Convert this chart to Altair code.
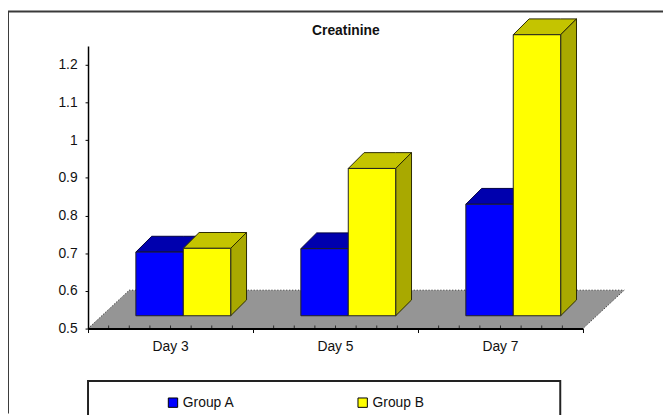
import altair as alt
import pandas as pd

days = ["Day 3", "Day 5", "Day 7"]
group_a = [0.703, 0.712, 0.83]
group_b = [0.713, 0.925, 1.28]
y_ticks = [0.5, 0.6, 0.7, 0.8, 0.9, 1.0, 1.1, 1.2]
series = ["Group A", "Group B"]
front_colors = ["#0000ff", "#ffff00"]
top_colors = ["#0000ae", "#c4c400"]
side_colors = ["#0000a0", "#a9a900"]

FONT = "Liberation Sans"
W, H = 501, 286
BASE = 0.534            # bar foot on the chart floor
BAR_W, BAR_OFF = 0.2874, 0.29
DX, DY = 0.096, 0.042   # bar depth
FDX, FDY = 0.25, 0.102  # floor depth

xs = alt.Scale(domain=[0, 3], nice=False, zero=False)
ys = alt.Scale(domain=[0.5, 1.25], nice=False, zero=False)
x_axis = alt.Axis(values=[0, 1, 2, 3], labels=False, tickSize=4, tickColor="#000000",
                  domainColor="#000000", domainWidth=2, grid=False, zindex=2, title=None)
y_axis = alt.Axis(values=y_ticks, format="~g", tickSize=3, tickColor="#000000",
                  domainColor="#000000", domainWidth=1.5, grid=False, zindex=2, title=None,
                  labelFont=FONT, labelFontSize=14, labelColor="#111111", labelPadding=8)
X = alt.X("x:Q", scale=xs, axis=x_axis)
Y = alt.Y("y:Q", scale=ys, axis=y_axis)

def shape_rows(values, s):
    top, side, front = [], [], []
    for d, v in enumerate(values):
        x0 = d + BAR_OFF + s * BAR_W
        x1 = x0 + BAR_W
        k = f"{d}"
        top += [
            dict(k=k, x=x0, y=v, y2=v),
            dict(k=k, x=x0 + DX, y=v + DY, y2=v),
            dict(k=k, x=x1, y=v + DY, y2=v),
            dict(k=k, x=x1 + DX, y=v + DY, y2=v + DY),
        ]
        side += [
            dict(k=k, x=x1, y=v, y2=BASE),
            dict(k=k, x=x1 + DX, y=v + DY, y2=BASE + DY),
        ]
        front.append(dict(x=x0, x2=x1, y=v, y2=BASE, series=series[s]))
    return top, side, front

def para(rows, fill, edge):
    return alt.Chart(pd.DataFrame(rows)).mark_area(
        fill=fill, stroke=edge, strokeWidth=1, orient="vertical"
    ).encode(x=X, y=Y, y2="y2:Q", detail="k:N")

floor = alt.Chart(pd.DataFrame([
    dict(k="f", x=0, y=0.5, y2=0.5),
    dict(k="f", x=FDX, y=0.5 + FDY, y2=0.5),
    dict(k="f", x=3, y=0.5 + FDY, y2=0.5),
    dict(k="f", x=3 + FDX, y=0.5 + FDY, y2=0.5 + FDY),
])).mark_area(fill="#959595", stroke="#222222", strokeWidth=1, strokeDash=[1, 2],
              orient="vertical").encode(x=X, y=Y, y2="y2:Q", detail="k:N")

minor = alt.Chart(pd.DataFrame({"x": [i / 8 for i in range(25) if i % 8], "y": [0.5] * 21})).mark_tick(
    orient="vertical", size=3, thickness=1, color="#000000", yOffset=-1.5
).encode(x=X, y=Y)

layers = [floor]
fronts = []
edges = ["#000040", "#2a2a00"]
for s, vals in enumerate([group_a, group_b]):
    t, sd, fr = shape_rows(vals, s)
    layers += [para(t, top_colors[s], edges[s]), para(sd, side_colors[s], edges[s])]
    fronts += fr

front = alt.Chart(pd.DataFrame(fronts)).mark_rect(stroke="#222222", strokeWidth=1).encode(
    x=X, x2="x2:Q", y=Y, y2="y2:Q",
    color=alt.Color("series:N", scale=alt.Scale(domain=series, range=front_colors),
                    legend=alt.Legend(
                        title=None, orient="none", legendX=79, legendY=354, direction="horizontal",
                        columns=2, columnPadding=122, symbolType="square", symbolSize=90,
                        symbolStrokeColor="#000000", symbolStrokeWidth=1, symbolOffset=0, padding=0,
                        labelFont=FONT, labelFontSize=14, labelColor="#111111", labelOffset=3)),
)

labels = alt.Chart(pd.DataFrame({"x": [0.5, 1.5, 2.5], "day": days})).mark_text(
    font=FONT, fontSize=14, color="#111111", baseline="middle"
).encode(x=X, y=alt.value(H + 19), text="day:N")

title = alt.Chart(pd.DataFrame({"t": ["Creatinine"]})).mark_text(
    font=FONT, fontSize=14, fontWeight="bold", color="#111111", baseline="middle"
).encode(x=alt.value(261), y=alt.value(-15), text="t:N")

frame_top = alt.Chart(pd.DataFrame({"a": [0]})).mark_rule(stroke="#3a3a3a", strokeWidth=2).encode(
    x=alt.value(-81), x2=alt.value(590), y=alt.value(-35))
frame_left = alt.Chart(pd.DataFrame({"a": [0]})).mark_rule(stroke="#3a3a3a", strokeWidth=2).encode(
    x=alt.value(-81), y=alt.value(-35), y2=alt.value(372))
box = alt.Chart(pd.DataFrame({"a": [0]})).mark_rect(fill="white", stroke="#222222", strokeWidth=2).encode(
    x=alt.value(0), x2=alt.value(478), y=alt.value(339), y2=alt.value(400))

chart = alt.layer(
    floor, frame_top, frame_left, box, *layers[1:], front, minor, labels, title,
).properties(
    width=W, height=H,
    padding={"left": 81, "top": 36, "right": 81, "bottom": 85},
    autosize="none", background="white",
).configure_view(stroke=None)

chart.save("out.html", embed_options={"renderer": "svg", "actions": False})
